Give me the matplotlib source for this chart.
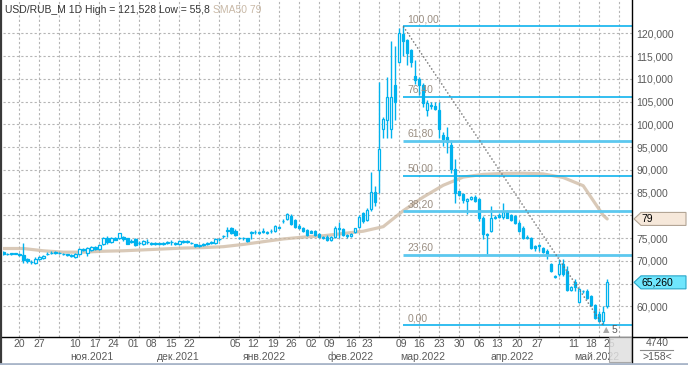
import numpy as np
import matplotlib.pyplot as plt
import matplotlib.transforms as mtransforms
from matplotlib.patches import Polygon, Rectangle
from matplotlib.lines import Line2D

plt.rcParams['font.family'] = ['Liberation Sans', 'DejaVu Sans']

# daily candles USD/RUB_M, oldest first
opens = [71.9, 71.4, 71.45, 71.5, 71.6, 71.3, 70.3, 69.8, 69.6, 70.3,
         70.6, 71.4, 71.7, 71.9, 71.7, 71.6, 71.4, 71.3, 70.8, 71.5,
         72.5, 71.7, 72.4, 73.0, 72.6, 73.6, 74.9, 74.2, 74.9, 74.9,
         75.2, 74.9, 74.4, 74.7, 73.9, 73.6, 74.1, 74.0, 73.9, 73.7,
         73.8, 74.0, 74.1, 73.8, 73.6, 74.4, 74.2, 73.9, 73.6, 73.5,
         73.7, 73.8, 74.0, 74.0, 74.7, 75.4, 76.6, 77.1, 76.6, 75.1,
         74.9, 74.9, 76.2, 76.3, 76.2, 76.6, 76.2, 76.5, 76.5, 77.4,
         78.7, 79.1, 79.8, 78.9, 77.7, 77.1, 76.8, 76.5, 76.5, 75.8,
         75.2, 75.3, 74.6, 75.2, 77.3, 77.0, 75.5, 75.4, 76.3, 77.5,
         80.4, 79.0, 81.3, 85.1, 89.9, 99.0, 100.9, 99.0, 108.7, 113.8,
         119.9, 118.6, 116.4, 110.7, 110.0, 108.7, 103.1, 104.3, 104.1, 103.2,
         97.7, 97.2, 95.5, 90.1, 85.3, 84.6, 83.1, 83.6, 84.1, 83.5,
         79.5, 75.9, 76.5, 79.4, 80.1, 79.7, 80.9, 80.0, 79.8, 78.4,
         77.3, 75.1, 75.1, 73.3, 73.3, 72.9, 72.2, 69.2, 66.5, 67.0,
         69.2, 67.8, 63.5, 65.35, 61.0, 63.3, 63.4, 62.3, 60.2, 58.2,
         56.8, 60.0]
highs = [72.1, 71.8, 71.8, 71.8, 71.8, 74.0, 70.6, 70.1, 70.8, 71.0,
         71.3, 71.9, 72.1, 72.2, 72.0, 71.8, 71.6, 71.5, 71.7, 72.9,
         72.8, 73.0, 73.3, 73.3, 73.7, 75.3, 75.4, 75.3, 75.2, 76.2,
         75.5, 75.1, 74.7, 74.9, 74.3, 74.5, 74.7, 74.2, 74.1, 74.0,
         74.1, 74.4, 74.6, 74.1, 74.5, 74.6, 74.5, 74.2, 73.8, 73.7,
         73.9, 74.1, 74.3, 74.9, 75.0, 75.7, 77.4, 77.4, 76.9, 75.3,
         75.2, 75.1, 76.6, 76.7, 76.5, 77.2, 76.6, 76.9, 77.9, 77.6,
         79.2, 80.6, 80.2, 79.2, 78.0, 77.4, 77.0, 76.7, 76.7, 76.0,
         75.5, 75.6, 75.5, 77.6, 78.5, 77.2, 75.9, 76.1, 77.3, 80.0,
         80.8, 81.5, 89.6, 86.4, 109.4, 101.6, 110.5, 118.4, 117.1, 121.2,
         121.528, 118.8, 116.6, 114.2, 110.5, 109.0, 105.4, 104.9, 104.9, 105.0,
         98.2, 99.4, 96.6, 92.3, 85.4, 85.0, 83.9, 84.3, 84.4, 83.8,
         79.8, 76.2, 82.0, 80.0, 80.4, 82.8, 81.2, 80.2, 80.0, 78.7,
         77.6, 75.6, 75.3, 73.5, 73.7, 73.1, 72.5, 69.5, 66.8, 70.3,
         70.3, 68.9, 64.5, 65.9, 64.1, 63.6, 63.9, 62.5, 60.4, 59.0,
         60.1, 65.9]
lows = [71.3, 71.3, 71.3, 71.4, 71.0, 69.5, 69.6, 69.4, 69.4, 70.1,
        70.4, 71.2, 71.5, 71.6, 71.4, 71.3, 71.0, 70.8, 70.6, 71.3,
        72.1, 71.05, 72.2, 72.4, 72.4, 73.4, 73.6, 74.0, 74.5, 74.7,
        74.4, 73.6, 74.0, 73.2, 73.5, 73.4, 73.6, 73.4, 73.5, 73.4,
        73.5, 73.7, 73.4, 73.5, 73.4, 74.0, 73.9, 73.6, 73.1, 73.1,
        73.3, 73.5, 73.7, 73.8, 74.4, 75.0, 75.2, 75.9, 75.5, 74.7,
        74.6, 74.1, 74.7, 75.9, 75.8, 76.0, 75.9, 76.1, 76.3, 77.2,
        78.2, 78.9, 77.8, 77.3, 77.0, 76.3, 75.5, 76.0, 75.4, 75.1,
        74.8, 74.4, 74.4, 75.0, 74.9, 75.4, 75.1, 75.2, 76.1, 77.3,
        78.4, 78.8, 81.0, 82.0, 85.0, 97.0, 97.0, 97.0, 101.0, 113.5,
        115.0, 113.1, 112.7, 108.8, 106.5, 103.9, 101.8, 103.4, 103.2, 97.0,
        95.2, 93.7, 89.3, 82.8, 84.2, 82.6, 80.2, 83.4, 82.9, 78.7,
        74.7, 71.4, 76.3, 79.2, 79.3, 79.1, 79.3, 78.8, 78.0, 76.3,
        74.7, 74.7, 72.7, 72.2, 72.2, 71.7, 70.3, 67.6, 66.2, 66.7,
        66.7, 63.4, 63.3, 63.4, 60.8, 62.9, 61.7, 60.0, 57.3, 56.45,
        55.8, 59.7]
closes = [71.5, 71.6, 71.65, 71.65, 71.2, 70.2, 69.9, 69.7, 70.5, 70.8,
          71.0, 71.5, 71.8, 71.7, 71.7, 71.4, 71.2, 71.0, 71.5, 72.6,
          72.3, 72.8, 73.0, 72.6, 73.4, 75.1, 74.1, 75.1, 74.6, 76.0,
          74.7, 73.8, 74.2, 73.4, 73.9, 74.3, 74.1, 73.6, 73.7, 73.7,
          73.8, 74.0, 74.1, 73.8, 74.3, 74.2, 74.2, 73.9, 73.25, 73.25,
          73.4, 73.8, 74.0, 74.7, 74.7, 75.45, 76.7, 76.2, 75.7, 74.9,
          74.9, 74.3, 76.2, 76.3, 76.2, 76.4, 76.2, 76.5, 77.6, 77.3,
          78.7, 80.2, 78.0, 77.5, 77.2, 76.5, 75.7, 76.2, 75.6, 75.3,
          75.0, 74.6, 75.3, 77.3, 77.0, 75.7, 75.5, 75.9, 77.1, 79.7,
          78.7, 81.1, 85.1, 82.9, 94.6, 101.2, 106.0, 106.0, 105.0, 120.0,
          118.4, 115.7, 113.8, 109.8, 108.7, 104.7, 104.7, 104.1, 103.4, 99.0,
          96.8, 96.1, 90.1, 85.0, 84.4, 83.3, 83.6, 84.0, 83.1, 79.3,
          75.8, 75.7, 79.3, 79.7, 79.6, 80.8, 79.5, 79.0, 78.2, 76.5,
          74.9, 75.1, 72.9, 72.9, 73.3, 71.9, 71.4, 67.8, 66.5, 69.2,
          67.0, 63.6, 64.3, 64.3, 63.75, 63.3, 61.9, 60.2, 57.5, 56.8,
          58.8, 65.26]

# SMA50 read every 5th bar (plus the last bar)
sma_bar = [0, 5, 10, 15, 20, 25, 30, 35, 40, 45, 50, 55, 60, 65, 70, 75,
           80, 85, 90, 95, 100, 105, 110, 115, 120, 125, 130, 135, 140, 145, 150, 151]
sma_vals = [72.7, 72.7, 72.2, 71.9, 71.9, 72.1, 72.2, 72.4, 72.6, 72.8, 72.9,
            73.1, 73.6, 74.2, 74.8, 75.2, 75.5, 76.0, 76.5, 77.5, 81.0, 84.0,
            86.6, 88.4, 89.0, 89.2, 89.25, 89.1, 88.3, 86.5, 80.0, 79.2]

fib_levels = [0.0, 23.6, 38.2, 50.0, 61.8, 76.4, 100.0]
fib_high_bar, fib_low_bar = 100, 150

day_labels = ['20', '27', '10', '17', '24', '01', '08', '15', '22', '05', '12', '19',
              '26', '02', '09', '16', '23', '09', '16', '23', '30', '06', '13', '20',
              '27', '11', '18', '25']
day_bars = [4, 9, 18, 23, 27.5, 32.5, 37, 42, 46.5, 58, 62.5, 67.5, 72, 77, 81.5,
            87, 91, 99.5, 104, 109, 114, 119, 123.5, 128.5, 133.5, 142.5, 147, 151.5]
month_labels = ['ноя.2021', 'дек.2021', 'янв.2022', 'фев.2022', 'мар.2022', 'апр.2022', 'май.2022']
month_bars = [22.2, 43.7, 65.4, 86.9, 104.9, 127.2, 148.4]

price_ticks = [60, 65, 70, 75, 80, 85, 90, 95, 100, 105, 110, 115, 120]
bars_total, bars_hidden = 4740, 158

def ru(v, nd):
    return f"{v:.{nd}f}".replace('.', ',')

W, H = 688, 365
cyan = '#00B2EE'
txt = '#5a5a5a'

fig = plt.figure(figsize=(W / 100, H / 100), dpi=100)
ax = fig.add_axes([3 / W, 28 / H, 629 / W, 336 / H])
ax.set_facecolor('white')
for s in ax.spines.values():
    s.set_visible(False)

o, h, l, c = map(np.array, (opens, highs, lows, closes))
idx = np.arange(len(c))
up = c >= o
lo_b = np.minimum(o, c)
ht = np.maximum(np.abs(c - o), 0.12)

# grid
for v in price_ticks:
    ax.axhline(v, color='#b5b5b5', lw=0.8, ls=(0, (2, 2)), zorder=0)
for x in np.arange(4, 157, 5):
    ax.axvline(x, color='#b5b5b5', lw=0.8, ls=(0, (2, 2)), zorder=0)

# SMA50
ax.plot(sma_bar, sma_vals, color='#cdb8a0', lw=2.3, alpha=0.75, zorder=1,
        solid_capstyle='round')

# candles
ax.vlines(idx, l, h, color=cyan, lw=1.0, zorder=2)
ax.bar(idx[up], ht[up], bottom=lo_b[up], width=0.62, facecolor='white',
       edgecolor=cyan, lw=0.9, zorder=3)
ax.bar(idx[~up], ht[~up], bottom=lo_b[~up], width=0.62, facecolor=cyan,
       edgecolor=cyan, lw=0.9, zorder=3)

# fibonacci
hi_v, lo_v = h[fib_high_bar], l[fib_low_bar]
xmax = 157.2
for lvl in fib_levels:
    val = lo_v + (hi_v - lo_v) * lvl / 100
    thick = lvl in (23.6, 38.2, 61.8)
    ax.hlines(val, fib_high_bar, xmax, color='#5cc8ef' if thick else '#0fb3ee',
              lw=2.0 if thick else 1.2, zorder=4)
    ax.annotate(ru(lvl, 2), (fib_high_bar, val), xytext=(3, 1.5),
                textcoords='offset points', ha='left', va='bottom',
                fontsize=7.5, color='#9a8e82', zorder=5)
ax.plot([fib_high_bar, fib_low_bar], [hi_v, lo_v], color='#6e6e6e', lw=1,
        ls=(0, (1, 1.6)), zorder=4)

# price markers on the right scale cover the scale labels under them
markers = [(sma_vals[-1], f"{sma_vals[-1]:.0f}", '#f6e8da', '#b3a595'),
           (c[-1], ru(c[-1], 3), '#6fe6fd', '#2aa6c8')]

ax.set_xlim(-0.075, xmax)
ax.set_ylim(53.25, 127.1)
ax.set_xticks([])
ax.yaxis.tick_right()
ax.set_yticks(price_ticks)
ax.set_yticklabels(['' if any(abs(v - m[0]) < 2.5 for m in markers) else ru(v, 3)
                    for v in price_ticks], fontsize=7.5, color=txt)
ax.tick_params(axis='y', length=0, pad=3)

# date labels
tx = mtransforms.blended_transform_factory(ax.transData, fig.transFigure)
for lab, b in zip(day_labels, day_bars):
    ax.text(b, 1 - 344 / H, lab, transform=tx, ha='center', va='center',
            fontsize=7.5, color=txt, clip_on=False)
for lab, b in zip(month_labels, month_bars):
    ax.text(b, 1 - 357 / H, lab, transform=tx, ha='center', va='center',
            fontsize=7.5, color=txt, clip_on=False)

ty = mtransforms.blended_transform_factory(fig.transFigure, ax.transData)
half = 6.5 / 4.55
for val, label, fc, ec in markers:
    pts = [(634 / W, val), (641 / W, val + half), (686 / W, val + half),
           (686 / W, val - half), (641 / W, val - half)]
    ax.add_patch(Polygon(pts, closed=True, transform=ty, fc=fc, ec=ec, lw=0.8,
                         clip_on=False, zorder=10))
    ax.text(641.5 / W, val, label, transform=ty, ha='left', va='center',
            fontsize=7.5, color='black', clip_on=False, zorder=11)

# title
t1 = fig.text(5 / W, 1 - 10 / H,
              f"USD/RUB_M 1D High = {ru(hi_v, 3)} Low = {f'{lo_v:g}'.replace('.', ',')} ",
              fontsize=7.5, color='#333333', va='center',
              family=['Liberation Sans Narrow', 'Liberation Sans'])
fig.canvas.draw()
bb = t1.get_window_extent()
fig.text(bb.x1 / W, 1 - 10 / H, f"SMA50 {sma_vals[-1]:.0f}", fontsize=7.5,
         color='#c9b9a7', va='center', family=['Liberation Sans Narrow', 'Liberation Sans'])

# frame and panels
fig.add_artist(Line2D([632 / W, 632 / W], [2 / H, 1], color='black', lw=1))
fig.add_artist(Line2D([0, 1], [1 - 337 / H, 1 - 337 / H], color='black', lw=1))
fig.add_artist(Line2D([1 / W, 1 / W], [0, 1], color='#3a3a3a', lw=1.6))
fig.add_artist(Line2D([0, 1], [1 / H, 1 / H], color='#a9b6c9', lw=2))

fig.add_artist(Rectangle((609 / W, 3 / H), 22 / W, 25 / H, transform=fig.transFigure,
                         fc='#e0e0e0', ec='#9c9c9c', lw=0.8, alpha=0.85, zorder=5))
fig.text(603 / W, 1 - 330 / H, '▲', fontsize=6, color='#a8a8a8', va='center',
         family=['DejaVu Sans'])
fig.text(612 / W, 1 - 330 / H, '5', fontsize=7.5, color=txt, va='center')
fig.text(657 / W, 1 - 343 / H, str(bars_total), fontsize=7.5, color=txt,
         ha='center', va='center')
fig.add_artist(Line2D([640 / W, 673 / W], [1 - 350 / H, 1 - 350 / H], color='#8a8a8a', lw=0.8))
fig.text(657 / W, 1 - 357 / H, f">{bars_hidden}<", fontsize=7.5, color=txt,
         ha='center', va='center')

fig.savefig('out.png', dpi=100)
